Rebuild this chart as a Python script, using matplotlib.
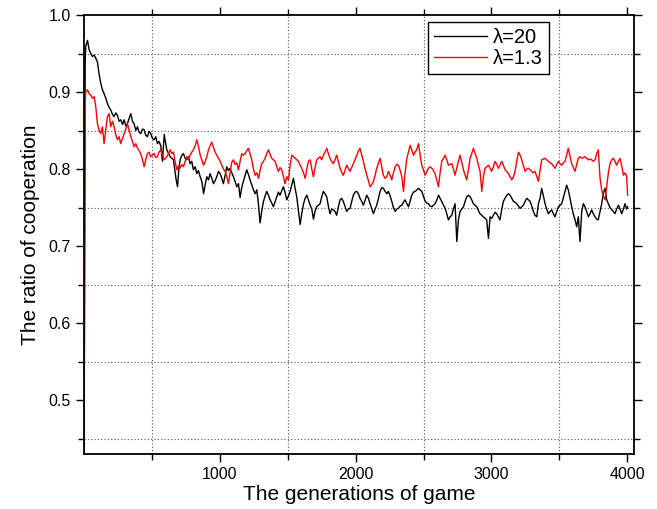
import matplotlib
matplotlib.use("Agg")
import matplotlib.pyplot as plt
import numpy as np

plt.rcParams['font.family'] = ['Liberation Sans', 'DejaVu Sans']

# lambda = 20 (black curve)
gen_l20 = [
    0, 8, 12, 25, 37, 49, 61, 74, 86, 98, 110, 123, 135, 147, 160, 172, 184, 196, 209, 221,
    233, 245, 258, 270, 283, 295, 307, 319, 332, 344, 356, 368, 381, 393, 405, 417, 430, 442, 454, 466,
    479, 491, 503, 516, 528, 540, 552, 565, 577, 590, 609, 634, 658, 678, 688, 698, 707, 720, 732, 744,
    756, 768, 781, 793, 805, 818, 830, 842, 855, 867, 880, 892, 904, 916, 928, 940, 953, 965, 977, 990,
    1002, 1014, 1026, 1039, 1051, 1063, 1075, 1088, 1100, 1112, 1125, 1137, 1149, 1161, 1173, 1186, 1198, 1210, 1222, 1235,
    1247, 1260, 1272, 1284, 1296, 1308, 1321, 1333, 1345, 1358, 1370, 1382, 1394, 1407, 1419, 1431, 1443, 1456, 1468, 1480,
    1493, 1505, 1517, 1530, 1542, 1554, 1566, 1579, 1591, 1603, 1616, 1628, 1640, 1652, 1665, 1677, 1689, 1701, 1713, 1725,
    1738, 1750, 1762, 1774, 1787, 1799, 1811, 1823, 1836, 1848, 1860, 1872, 1885, 1897, 1909, 1921, 1934, 1946, 1959, 1971,
    1983, 1995, 2008, 2020, 2032, 2045, 2057, 2070, 2082, 2094, 2106, 2119, 2131, 2143, 2155, 2168, 2180, 2192, 2204, 2217,
    2229, 2241, 2254, 2266, 2278, 2291, 2303, 2315, 2328, 2340, 2352, 2364, 2377, 2389, 2401, 2413, 2426, 2438, 2450, 2463,
    2475, 2487, 2500, 2512, 2524, 2536, 2548, 2561, 2573, 2585, 2598, 2610, 2622, 2634, 2647, 2659, 2671, 2683, 2696, 2708,
    2720, 2732, 2745, 2757, 2769, 2782, 2794, 2806, 2818, 2831, 2843, 2855, 2867, 2880, 2892, 2904, 2916, 2929, 2941, 2953,
    2965, 2978, 2990, 3002, 3014, 3027, 3039, 3051, 3063, 3076, 3088, 3100, 3113, 3125, 3137, 3150, 3162, 3174, 3186, 3199,
    3211, 3223, 3235, 3248, 3260, 3272, 3285, 3297, 3309, 3321, 3334, 3346, 3358, 3370, 3383, 3395, 3407, 3419, 3432, 3444,
    3456, 3468, 3481, 3493, 3505, 3517, 3530, 3542, 3554, 3566, 3579, 3591, 3603, 3616, 3628, 3640, 3652, 3665, 3677, 3689,
    3701, 3714, 3726, 3738, 3750, 3763, 3775, 3787, 3800, 3812, 3824, 3837, 3849, 3861, 3873, 3886, 3898, 3910, 3922, 3935,
    3947, 3959, 3972, 3984, 3996, 4003,
]
coop_l20 = [
    0.430, 0.940, 0.959, 0.967, 0.955, 0.950, 0.946, 0.948, 0.944, 0.939, 0.924, 0.911, 0.903, 0.898, 0.892, 0.885, 0.880, 0.877, 0.871, 0.868,
    0.873, 0.870, 0.862, 0.864, 0.858, 0.864, 0.856, 0.859, 0.866, 0.872, 0.862, 0.859, 0.850, 0.855, 0.848, 0.846, 0.852, 0.851, 0.844, 0.842,
    0.849, 0.846, 0.840, 0.838, 0.842, 0.833, 0.836, 0.830, 0.810, 0.845, 0.825, 0.816, 0.812, 0.786, 0.777, 0.800, 0.812, 0.818, 0.820, 0.814,
    0.812, 0.816, 0.807, 0.810, 0.799, 0.803, 0.794, 0.798, 0.790, 0.784, 0.768, 0.780, 0.790, 0.786, 0.794, 0.788, 0.781, 0.785, 0.790, 0.797,
    0.794, 0.788, 0.781, 0.792, 0.803, 0.798, 0.801, 0.795, 0.790, 0.784, 0.777, 0.781, 0.763, 0.776, 0.784, 0.792, 0.799, 0.793, 0.786, 0.779,
    0.773, 0.768, 0.773, 0.755, 0.730, 0.745, 0.758, 0.765, 0.771, 0.766, 0.760, 0.756, 0.751, 0.758, 0.764, 0.770, 0.766, 0.772, 0.777, 0.770,
    0.760, 0.765, 0.771, 0.780, 0.788, 0.775, 0.764, 0.745, 0.728, 0.742, 0.755, 0.762, 0.766, 0.760, 0.753, 0.748, 0.735, 0.745, 0.751, 0.753,
    0.755, 0.764, 0.771, 0.768, 0.764, 0.752, 0.742, 0.748, 0.747, 0.745, 0.740, 0.750, 0.760, 0.762, 0.758, 0.752, 0.745, 0.748, 0.749, 0.758,
    0.766, 0.770, 0.771, 0.768, 0.762, 0.758, 0.753, 0.760, 0.766, 0.762, 0.755, 0.748, 0.742, 0.748, 0.753, 0.762, 0.771, 0.776, 0.775, 0.771,
    0.768, 0.771, 0.765, 0.758, 0.750, 0.745, 0.748, 0.749, 0.752, 0.753, 0.757, 0.760, 0.755, 0.751, 0.758, 0.766, 0.770, 0.771, 0.773, 0.775,
    0.773, 0.771, 0.764, 0.758, 0.756, 0.755, 0.752, 0.751, 0.753, 0.755, 0.760, 0.766, 0.762, 0.758, 0.753, 0.749, 0.742, 0.734, 0.738, 0.740,
    0.748, 0.755, 0.706, 0.734, 0.745, 0.748, 0.751, 0.758, 0.764, 0.766, 0.764, 0.760, 0.755, 0.753, 0.751, 0.746, 0.742, 0.740, 0.738, 0.736,
    0.734, 0.710, 0.738, 0.736, 0.740, 0.744, 0.742, 0.738, 0.734, 0.748, 0.758, 0.762, 0.766, 0.768, 0.766, 0.762, 0.758, 0.757, 0.755, 0.752,
    0.749, 0.751, 0.753, 0.758, 0.762, 0.760, 0.758, 0.752, 0.745, 0.740, 0.738, 0.755, 0.762, 0.775, 0.765, 0.755, 0.748, 0.742, 0.745, 0.747,
    0.742, 0.738, 0.745, 0.751, 0.753, 0.755, 0.763, 0.771, 0.779, 0.773, 0.762, 0.751, 0.742, 0.734, 0.725, 0.738, 0.706, 0.745, 0.755, 0.751,
    0.745, 0.738, 0.742, 0.747, 0.742, 0.738, 0.735, 0.734, 0.745, 0.755, 0.768, 0.775, 0.760, 0.755, 0.750, 0.747, 0.745, 0.742, 0.748, 0.753,
    0.748, 0.742, 0.748, 0.755, 0.748, 0.751,
]

# lambda = 1.3 (red curve)
gen_l13 = [
    0, 7, 12, 25, 37, 49, 61, 74, 86, 98, 110, 123, 135, 147, 160, 172, 184, 196, 209, 221,
    233, 245, 258, 270, 283, 295, 307, 319, 332, 344, 356, 368, 381, 393, 405, 417, 430, 442, 454, 466,
    479, 491, 503, 516, 528, 540, 552, 565, 577, 590, 609, 621, 634, 646, 658, 670, 683, 695, 707, 720,
    732, 744, 756, 768, 781, 793, 805, 818, 830, 842, 855, 867, 880, 892, 904, 916, 928, 940, 953, 965,
    977, 990, 1002, 1014, 1026, 1039, 1051, 1063, 1075, 1088, 1100, 1112, 1125, 1137, 1149, 1161, 1173, 1186, 1198, 1210,
    1222, 1235, 1247, 1260, 1272, 1284, 1296, 1308, 1321, 1333, 1345, 1358, 1370, 1382, 1394, 1407, 1419, 1431, 1443, 1456,
    1468, 1480, 1493, 1505, 1517, 1530, 1542, 1554, 1566, 1579, 1591, 1603, 1616, 1628, 1640, 1652, 1665, 1677, 1689, 1701,
    1713, 1725, 1738, 1750, 1762, 1774, 1787, 1799, 1811, 1823, 1836, 1848, 1860, 1872, 1885, 1897, 1909, 1921, 1934, 1946,
    1959, 1971, 1983, 1995, 2008, 2020, 2032, 2045, 2057, 2070, 2082, 2094, 2106, 2119, 2131, 2143, 2155, 2168, 2180, 2192,
    2204, 2217, 2229, 2241, 2254, 2266, 2278, 2291, 2303, 2315, 2328, 2340, 2352, 2364, 2377, 2389, 2401, 2413, 2426, 2438,
    2450, 2463, 2475, 2487, 2500, 2512, 2524, 2536, 2548, 2561, 2573, 2585, 2598, 2610, 2622, 2634, 2647, 2659, 2671, 2683,
    2696, 2708, 2720, 2732, 2745, 2757, 2769, 2782, 2794, 2806, 2818, 2831, 2843, 2855, 2867, 2880, 2892, 2904, 2916, 2929,
    2941, 2953, 2965, 2978, 2990, 3002, 3014, 3027, 3039, 3051, 3063, 3076, 3088, 3100, 3113, 3125, 3137, 3150, 3162, 3174,
    3186, 3199, 3211, 3223, 3235, 3248, 3260, 3272, 3285, 3297, 3309, 3321, 3334, 3346, 3358, 3370, 3383, 3395, 3407, 3419,
    3432, 3444, 3456, 3468, 3481, 3493, 3505, 3517, 3530, 3542, 3554, 3566, 3579, 3591, 3603, 3616, 3628, 3640, 3652, 3665,
    3677, 3689, 3701, 3714, 3726, 3738, 3750, 3763, 3775, 3787, 3800, 3812, 3824, 3837, 3849, 3861, 3873, 3886, 3898, 3910,
    3922, 3935, 3947, 3959, 3972, 3984, 3996, 4003,
]
coop_l13 = [
    0.430, 0.880, 0.900, 0.903, 0.898, 0.896, 0.892, 0.894, 0.881, 0.859, 0.851, 0.846, 0.855, 0.833, 0.851, 0.868, 0.872, 0.855, 0.862, 0.855,
    0.845, 0.838, 0.842, 0.833, 0.840, 0.846, 0.852, 0.859, 0.850, 0.842, 0.836, 0.829, 0.833, 0.827, 0.824, 0.820, 0.812, 0.803, 0.812, 0.820,
    0.822, 0.816, 0.818, 0.820, 0.815, 0.816, 0.822, 0.825, 0.818, 0.812, 0.816, 0.820, 0.825, 0.820, 0.822, 0.810, 0.799, 0.804, 0.801, 0.806,
    0.803, 0.810, 0.816, 0.813, 0.818, 0.822, 0.825, 0.830, 0.838, 0.830, 0.818, 0.812, 0.805, 0.810, 0.816, 0.825, 0.830, 0.835, 0.828, 0.822,
    0.818, 0.814, 0.810, 0.805, 0.800, 0.797, 0.790, 0.781, 0.795, 0.809, 0.812, 0.806, 0.808, 0.799, 0.810, 0.820, 0.818, 0.820, 0.824, 0.827,
    0.820, 0.812, 0.800, 0.792, 0.795, 0.788, 0.798, 0.807, 0.810, 0.814, 0.820, 0.825, 0.819, 0.814, 0.812, 0.810, 0.803, 0.797, 0.802, 0.799,
    0.790, 0.781, 0.790, 0.786, 0.805, 0.818, 0.816, 0.814, 0.812, 0.810, 0.805, 0.801, 0.795, 0.788, 0.800, 0.810, 0.812, 0.800, 0.790, 0.802,
    0.812, 0.814, 0.816, 0.812, 0.818, 0.822, 0.827, 0.820, 0.814, 0.810, 0.807, 0.812, 0.818, 0.810, 0.801, 0.796, 0.792, 0.798, 0.805, 0.801,
    0.797, 0.802, 0.807, 0.812, 0.818, 0.823, 0.827, 0.818, 0.810, 0.800, 0.792, 0.785, 0.777, 0.780, 0.784, 0.792, 0.801, 0.808, 0.814, 0.803,
    0.792, 0.788, 0.790, 0.797, 0.792, 0.786, 0.795, 0.803, 0.806, 0.805, 0.798, 0.790, 0.771, 0.795, 0.814, 0.822, 0.831, 0.825, 0.818, 0.822,
    0.825, 0.833, 0.818, 0.805, 0.798, 0.792, 0.797, 0.801, 0.803, 0.801, 0.798, 0.794, 0.785, 0.777, 0.795, 0.810, 0.814, 0.818, 0.812, 0.805,
    0.806, 0.807, 0.800, 0.792, 0.802, 0.810, 0.818, 0.808, 0.799, 0.792, 0.786, 0.800, 0.814, 0.820, 0.827, 0.820, 0.814, 0.805, 0.797, 0.771,
    0.790, 0.801, 0.803, 0.805, 0.801, 0.797, 0.803, 0.810, 0.806, 0.801, 0.805, 0.810, 0.805, 0.799, 0.797, 0.794, 0.790, 0.786, 0.790, 0.797,
    0.810, 0.822, 0.818, 0.812, 0.805, 0.797, 0.800, 0.801, 0.799, 0.797, 0.795, 0.797, 0.790, 0.784, 0.798, 0.812, 0.813, 0.814, 0.812, 0.810,
    0.808, 0.807, 0.804, 0.801, 0.806, 0.810, 0.807, 0.805, 0.808, 0.810, 0.818, 0.827, 0.816, 0.807, 0.802, 0.797, 0.806, 0.814, 0.816, 0.814,
    0.815, 0.816, 0.814, 0.812, 0.813, 0.812, 0.810, 0.812, 0.820, 0.825, 0.788, 0.773, 0.765, 0.760, 0.777, 0.795, 0.807, 0.812, 0.814, 0.810,
    0.805, 0.810, 0.814, 0.805, 0.792, 0.795, 0.790, 0.766,
]

xticks = [1000, 2000, 3000, 4000]
xminor = [500, 1500, 2500, 3500]
yticks = [0.5, 0.6, 0.7, 0.8, 0.9, 1.0]
yminor = [0.45, 0.55, 0.65, 0.75, 0.85, 0.95]

fig = plt.figure(figsize=(6.57, 5.09), dpi=100)
ax = fig.add_axes([0.128, 0.108, 0.837, 0.8625])

ax.plot(gen_l20, coop_l20, color='black', linewidth=1.0, label='λ=20')
ax.plot(gen_l13, coop_l13, color='red', linewidth=1.0, label='λ=1.3')

ax.set_xlim(0, 4050)
ax.set_ylim(0.43, 1.0)
ax.set_xticks(xticks)
ax.set_xticks(xminor, minor=True)
ax.set_yticks(yticks)
ax.set_yticklabels([f"{v:.1f}" for v in yticks])
ax.set_yticks(yminor, minor=True)

# dotted grid sits on the minor ticks only
ax.grid(False, which='major')
ax.grid(True, which='minor', linestyle=(0, (1, 2)), color='#555555', linewidth=0.8)

ax.tick_params(which='both', direction='out', top=True, right=True,
               labeltop=False, labelright=False, width=1.0, labelsize=11.5, colors='black')
ax.tick_params(which='major', length=6)
ax.tick_params(which='minor', length=4)
for sp in ax.spines.values():
    sp.set_linewidth(1.3)
    sp.set_color('black')

ax.set_xlabel('The generations of game', fontsize=15, labelpad=2)
ax.set_ylabel('The ratio of cooperation', fontsize=15, labelpad=6)

leg = ax.legend(loc='upper right', bbox_to_anchor=(0.845, 0.984), fontsize=14.5,
                fancybox=False, framealpha=1, edgecolor='black', handlelength=2.6,
                handletextpad=0.3, borderpad=0.3, labelspacing=0.1, borderaxespad=0)
leg.get_frame().set_linewidth(1.0)

fig.savefig('out.png', dpi=100)
